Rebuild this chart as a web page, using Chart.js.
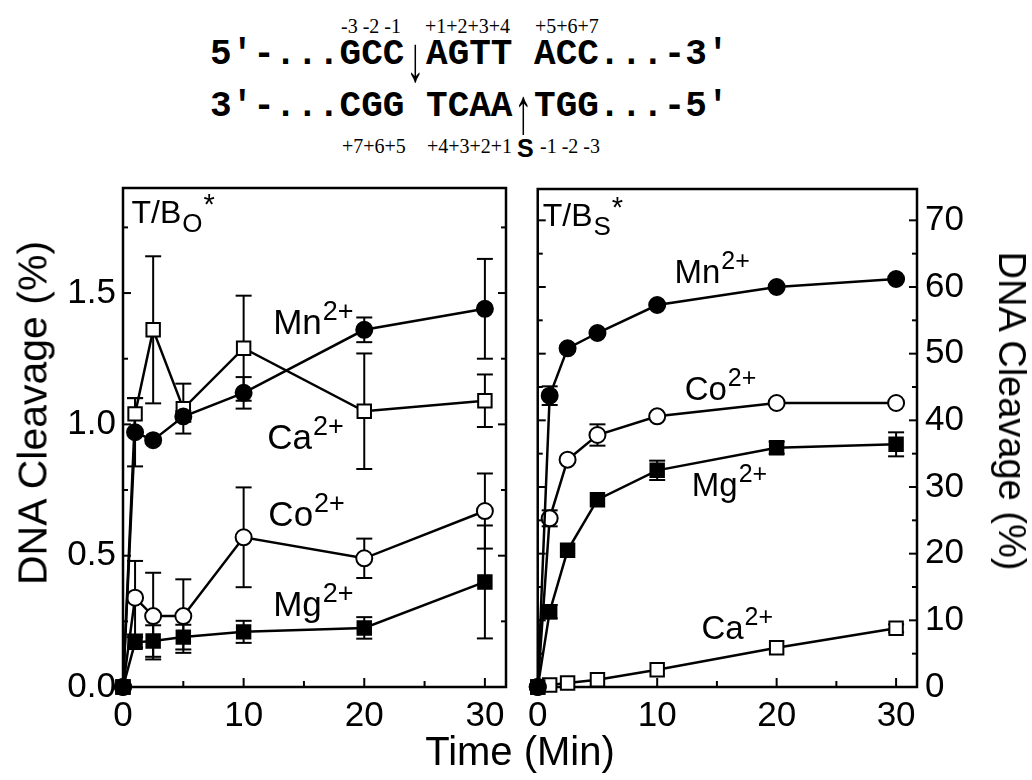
<!DOCTYPE html>
<html>
<head>
<meta charset="utf-8">
<script src="https://cdn.jsdelivr.net/npm/chart.js@4.4.0/dist/chart.umd.min.js"></script>
<style>
  body { margin:0; background:#fff; width:1032px; height:780px; position:relative; overflow:hidden;
         font-family:"Liberation Sans", Arial, sans-serif; color:#000; }
  .seq { position:absolute; font-family:"Liberation Mono","Courier New",monospace; font-weight:bold;
         font-size:36px; line-height:36px; white-space:pre; }
  .arr { display:inline-block; width:0.6em; text-align:center; font-weight:normal; transform:scaleY(1.8); transform-origin:50% 15%; }
  .pos { position:absolute; font-family:"Liberation Serif","Times New Roman",serif; font-size:20px; line-height:20px; white-space:pre; }
  .ttl { position:absolute; white-space:nowrap; line-height:1; }
  canvas { position:absolute; }
</style>
</head>
<body>
<!-- sequence header -->
<div class="pos" style="left:341px;top:16px">-3 -2 -1</div>
<div class="pos" style="left:425px;top:16px">+1+2+3+4</div>
<div class="pos" style="left:535px;top:16px">+5+6+7</div>
<div class="seq" style="left:210px;top:37px">5'-...GCC<span class="arr">↓</span>AGTT ACC...-3'</div>
<div class="seq" style="left:210px;top:89px">3'-...CGG TCAA<span class="arr">↑</span>TGG...-5'</div>
<div class="pos" style="left:342px;top:136px">+7+6+5</div>
<div class="pos" style="left:427px;top:136px">+4+3+2+1</div>
<div class="pos" style="left:517px;top:136px;font-family:'Liberation Sans',Arial,sans-serif;font-weight:bold;font-size:25px;line-height:25px">S</div>
<div class="pos" style="left:540px;top:136px">-1 -2 -3</div>

<canvas id="left" width="520" height="620" style="left:0;top:160px"></canvas>
<canvas id="right" width="512" height="620" style="left:520px;top:160px"></canvas>

<div class="ttl" style="left:33px;top:413px;font-size:41px;transform:translate(-50%,-50%) rotate(-90deg)">DNA Cleavage (%)</div>
<div class="ttl" style="left:1012px;top:411px;font-size:38px;transform:translate(-50%,-50%) rotate(90deg)">DNA Cleavage (%)</div>
<div class="ttl" style="left:520px;top:731px;font-size:40px;transform:translateX(-50%)">Time (Min)</div>

<script>
// ── Data ───────────────────────────────────────
const times = [0, 1, 2.5, 5, 10, 20, 30];

// T/B_O* (left panel, %)
const oMn    = [0, 0.97, 0.94, 1.03, 1.12, 1.36, 1.44];
const oMnErr = [0, 0.13, 0, 0.02, 0.06, 0.047, 0.19];
const oCa    = [0, 1.04, 1.36, 1.06, 1.29, 1.05, 1.09];
const oCaErr = [0, 0.06, 0.28, 0.095, 0.2, 0.22, 0.1];
const oCo    = [0, 0.34, 0.27, 0.27, 0.57, 0.49, 0.67];
const oCoErr = [0, 0.14, 0.165, 0.14, 0.19, 0.075, 0.143];
const oMg    = [0, 0.17, 0.175, 0.19, 0.21, 0.225, 0.40];
const oMgErr = [0, 0.02, 0.06, 0.047, 0.042, 0.041, 0.215];

// T/B_S* (right panel, %)
const sMn    = [0, 43.7, 50.8, 53.1, 57.3, 60.0, 61.2];
const sMnErr = [0, 1.4, 0, 0, 0, 0, 0];
const sCo    = [0, 25.3, 34.1, 37.8, 40.6, 42.6, 42.6];
const sCoErr = [0, 1.2, 0, 1.6, 0, 0, 0];
const sMg    = [0, 11.3, 20.5, 28.1, 32.5, 35.9, 36.4];
const sMgErr = [0, 1.0, 0, 0, 1.45, 0.9, 1.8];
const sCa    = [0, 0.3, 0.6, 1.1, 2.6, 5.9, 8.8];
const sCaErr = [0, 0, 0, 0, 0, 0, 0.6];

const FONT = '"Liberation Sans", Arial, sans-serif';

// ── Plugins ────────────────────────────────────
function line(ctx, x1, y1, x2, y2) { ctx.beginPath(); ctx.moveTo(x1, y1); ctx.lineTo(x2, y2); ctx.stroke(); }

const frameTicks = {
  id: 'frameTicks',
  beforeDatasetsDraw(chart, args, opts) {
    const { ctx, chartArea: a, scales: { x, y } } = chart;
    ctx.save();
    ctx.strokeStyle = '#000';
    ctx.lineWidth = 2;
    x.ticks.forEach(t => {
      const px = x.getPixelForValue(t.value);
      line(ctx, px, a.bottom, px, a.bottom - (Math.round(t.value) % 10 === 0 ? 9 : 6));
    });
    y.ticks.forEach(t => {
      const py = y.getPixelForValue(t.value);
      const len = opts.isMajor(t.value) ? 8 : 5;
      line(ctx, a.left, py, a.left + len, py);
      line(ctx, a.right, py, a.right - len, py);
    });
    ctx.lineWidth = 2.5;
    ctx.strokeRect(a.left, a.top, a.right - a.left, a.bottom - a.top);
    ctx.restore();
  }
};

const errorBars = {
  id: 'errorBars',
  beforeDatasetsDraw(chart) {
    const { ctx, scales: { x, y } } = chart;
    ctx.save();
    ctx.strokeStyle = '#000';
    ctx.lineWidth = 2;
    chart.data.datasets.forEach(ds => {
      (ds.errors || []).forEach((e, i) => {
        if (!e) return;
        const p = ds.data[i];
        const px = x.getPixelForValue(p.x);
        const hi = y.getPixelForValue(p.y + e), lo = y.getPixelForValue(p.y - e);
        line(ctx, px, hi, px, lo);
        line(ctx, px - 8, hi, px + 8, hi);
        line(ctx, px - 8, lo, px + 8, lo);
      });
    });
    ctx.restore();
  }
};

// text labels: [main, sub, sup, xVal, yVal, size]
const seriesLabels = {
  id: 'seriesLabels',
  afterDatasetsDraw(chart, args, opts) {
    const { ctx, scales: { x, y } } = chart;
    ctx.save();
    ctx.fillStyle = '#000';
    ctx.textBaseline = 'alphabetic';
    ctx.textAlign = 'left';
    opts.items.forEach(([main, sub, sup, xv, yv, size]) => {
      let px = x.getPixelForValue(xv);
      const py = y.getPixelForValue(yv);
      ctx.font = size + 'px ' + FONT;
      ctx.fillText(main, px, py);
      px += ctx.measureText(main).width + 1;
      if (sub) {
        ctx.font = Math.round(size * 0.8) + 'px ' + FONT;
        ctx.fillText(sub, px, py + 9);
        px += ctx.measureText(sub).width + 1;
      }
      if (sup === '*') {
        ctx.font = Math.round(size * 0.9) + 'px ' + FONT;
        ctx.fillText(sup, px, py - 9);
      } else if (sup) {
        ctx.font = Math.round(size * 0.77) + 'px ' + FONT;
        ctx.fillText(sup, px, py - 14);
      }
    });
    ctx.restore();
  }
};

// ── Chart builder ──────────────────────────────
function pts(vals) { return times.map((t, i) => ({ x: t, y: vals[i] })); }

function series(vals, errs, style, filled) {
  const r = style === 'rect' ? 9.5 : 8;
  return {
    data: pts(vals), errors: errs,
    borderColor: '#000', borderWidth: 2.5, tension: 0, clip: false,
    pointStyle: style, pointRadius: r, pointHoverRadius: r,
    pointBackgroundColor: filled ? '#000' : '#fff', pointBorderColor: '#000', pointBorderWidth: 2
  };
}

function xAxis() {
  return {
    type: 'linear', min: 0, max: 31.75,
    grid: { display: false, drawTicks: false }, border: { display: false },
    ticks: { stepSize: 5, includeBounds: false, autoSkip: false, maxRotation: 0, padding: 8,
             color: '#000', font: { family: FONT, size: 35 },
             callback: v => Math.round(v) % 10 === 0 ? String(Math.round(v)) : '' },
    afterFit(s) { s.height = 40; }
  };
}

// ── Left panel: T/B_O* ─────────────────────────
new Chart(document.getElementById('left'), {
  type: 'line',
  data: { datasets: [
    series(oMn, oMnErr, 'circle', true),
    series(oCa, oCaErr, 'rect', false),
    series(oCo, oCoErr, 'circle', false),
    series(oMg, oMgErr, 'rect', true)
  ]},
  options: {
    responsive: false, animation: false, devicePixelRatio: 1,
    layout: { padding: { left: 0, right: 14, top: 16, bottom: 53 } },
    scales: {
      x: xAxis(),
      y: {
        type: 'linear', position: 'left', min: 0, max: 1.9,
        grid: { display: false, drawTicks: false }, border: { display: false },
        ticks: { stepSize: 0.25, includeBounds: false, autoSkip: false, padding: 7,
                 color: '#000', font: { family: FONT, size: 35 },
                 callback: v => Math.round(v * 4) % 2 === 0 ? v.toFixed(1) : '' },
        afterFit(s) { s.width = 123; }
      }
    },
    plugins: {
      legend: { display: false }, tooltip: { enabled: false },
      frameTicks: { isMajor: v => Math.round(v * 4) % 2 === 0 },
      seriesLabels: { items: [
        ['T/B', 'O', '*', 0.7, 1.765, 32],
        ['Mn', '', '2+', 12.45, 1.345, 35],
        ['Ca', '', '2+', 11.95, 0.905, 35],
        ['Co', '', '2+', 12.05, 0.612, 35],
        ['Mg', '', '2+', 12.45, 0.27, 35]
      ]}
    }
  },
  plugins: [frameTicks, errorBars, seriesLabels]
});

// ── Right panel: T/B_S* ────────────────────────
new Chart(document.getElementById('right'), {
  type: 'line',
  data: { datasets: [
    series(sMn, sMnErr, 'circle', true),
    series(sCo, sCoErr, 'circle', false),
    series(sMg, sMgErr, 'rect', true),
    series(sCa, sCaErr, 'rect', false)
  ]},
  options: {
    responsive: false, animation: false, devicePixelRatio: 1,
    layout: { padding: { left: 15, right: 0, top: 16, bottom: 53 } },
    scales: {
      x: xAxis(),
      y: {
        type: 'linear', position: 'right', min: 0, max: 74.7,
        grid: { display: false, drawTicks: false }, border: { display: false },
        ticks: { stepSize: 5, includeBounds: false, autoSkip: false, padding: 8,
                 color: '#000', font: { family: FONT, size: 35 },
                 callback: v => Math.round(v) % 10 === 0 ? String(Math.round(v)) : '' },
        afterFit(s) { s.width = 115; }
      }
    },
    plugins: {
      legend: { display: false }, tooltip: { enabled: false },
      frameTicks: { isMajor: v => Math.round(v) % 10 === 0 },
      seriesLabels: { items: [
        ['T/B', 'S', '*', 0.42, 69.2, 32],
        ['Mn', '', '2+', 11.45, 60.6, 33],
        ['Co', '', '2+', 12.3, 43.1, 33],
        ['Mg', '', '2+', 12.9, 28.6, 33],
        ['Ca', '', '2+', 13.7, 7.2, 33]
      ]}
    }
  },
  plugins: [frameTicks, errorBars, seriesLabels]
});
</script>
</body>
</html>
